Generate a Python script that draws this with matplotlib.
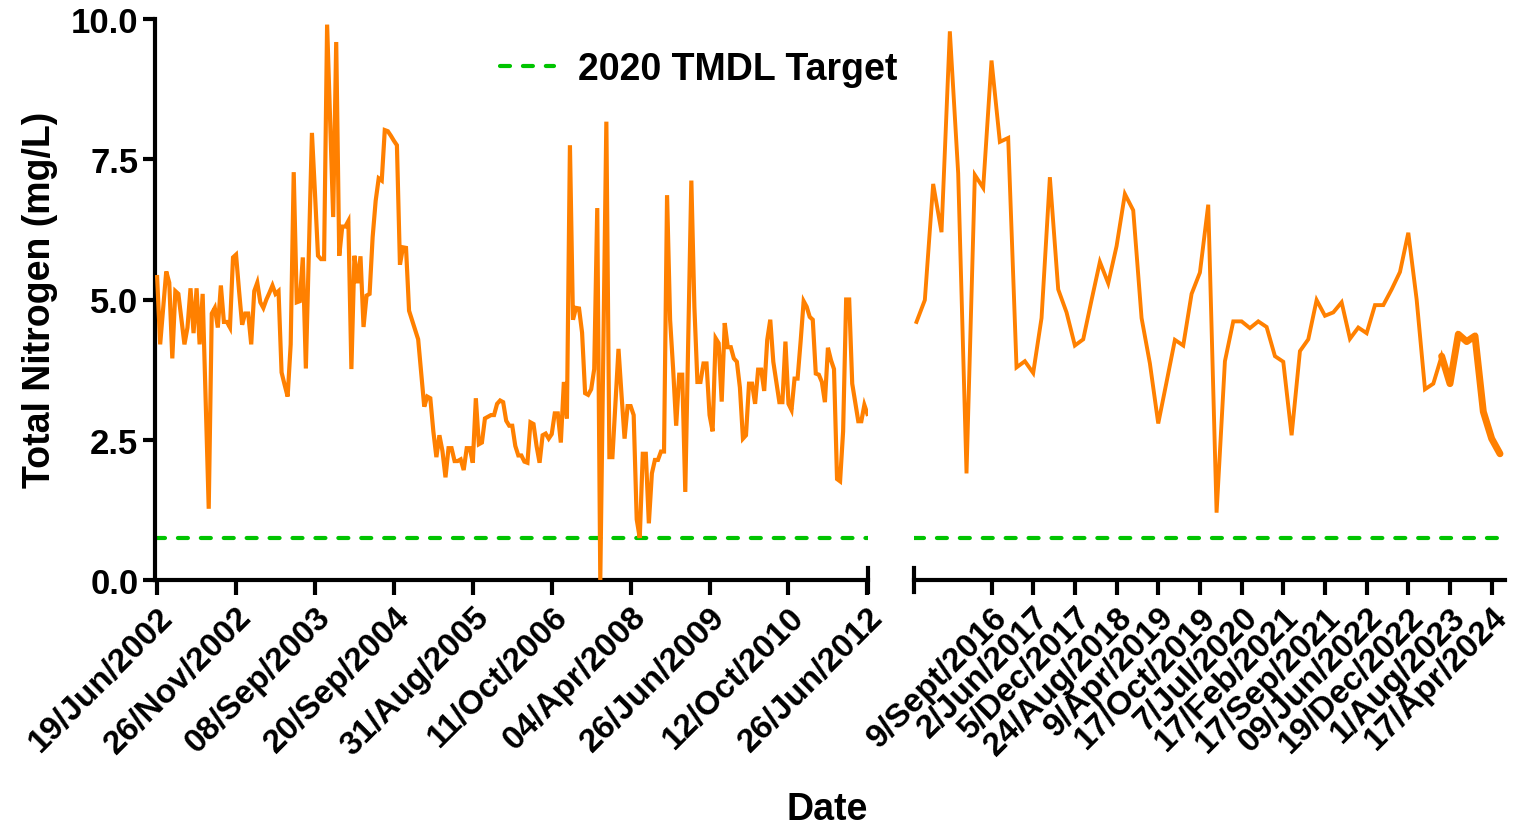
import numpy as np
import matplotlib.pyplot as plt
from matplotlib.lines import Line2D

plt.rcParams['font.family'] = ['Liberation Sans', 'DejaVu Sans']
plt.rcParams['font.weight'] = 'bold'

# Total nitrogen (mg/L), 2002-2012 samples in sampling order
tn_early = [
    5.4, 4.2, 4.85, 5.5, 5.3, 3.95, 5.15, 5.1, 4.65, 4.2, 4.5, 5.2, 4.4, 5.2,
    4.2, 5.1, 3.2, 1.27, 4.75, 4.85, 4.5, 5.25, 4.6, 4.6, 4.5, 5.75, 5.8, 5.15,
    4.55, 4.75, 4.75, 4.2, 5.15, 5.3, 4.95, 4.85, 5.0, 5.12, 5.25, 5.1, 5.15,
    3.7, 3.48, 3.27, 4.2, 7.27,
    4.95, 4.97, 5.75, 3.77, 5.9, 7.97, 6.9, 5.78, 5.72, 5.72, 9.9, 8.2, 6.47,
    9.59, 5.78, 6.3, 6.3, 6.4, 3.76, 5.78, 5.29, 5.77, 4.51, 5.07, 5.1, 6.11,
    6.76, 7.16, 7.12, 8.02, 8.0, 7.92, 7.83, 7.75, 5.62, 5.93, 5.92, 4.8, 4.63,
    4.46, 4.29, 3.69, 3.09, 3.27, 3.24, 2.65, 2.19, 2.58,
    2.3, 1.83, 2.35, 2.35, 2.12, 2.12, 2.15, 1.96, 2.35, 2.35, 2.09, 3.24, 2.42,
    2.45, 2.88, 2.91, 2.94, 2.94, 3.14, 3.2, 3.17, 2.84, 2.75, 2.75, 2.39, 2.22,
    2.22, 2.11, 2.09, 2.81, 2.78, 2.39, 2.09, 2.58, 2.61, 2.52, 2.6, 2.97, 2.97,
    2.45, 3.53, 2.88, 7.75, 4.64, 4.85, 4.84, 4.41, 3.33,
    3.3, 3.4, 3.76, 6.63, 0.0, 4.1, 8.17, 2.19, 2.19, 3.15, 4.12, 3.3, 2.52, 3.1,
    3.1, 2.94, 1.08, 0.75, 2.25, 2.25, 1.01, 1.9, 2.14, 2.14, 2.29, 2.29, 6.86,
    4.64, 3.76, 2.75, 3.66, 3.66, 1.57, 4.35, 7.12, 4.87, 3.53, 3.53, 3.86, 3.86,
    2.94, 2.65, 4.31, 4.22, 3.18, 4.58, 4.15, 4.15,
    3.95, 3.89, 3.43, 2.52, 2.58, 3.5, 3.5, 3.14, 3.75, 3.75, 3.37, 4.28, 4.64,
    3.89, 3.53, 3.17, 3.17, 4.25, 3.14, 3.03, 3.59, 3.59, 4.25, 4.97, 4.87, 4.69,
    4.64, 3.68, 3.66, 3.53, 3.17, 4.14, 3.92, 3.76, 1.8, 1.76, 2.65, 5.0, 5.0,
    3.5, 3.17, 2.83, 2.83, 3.12, 2.96,
]
early_labels = ["19/Jun/2002", "26/Nov/2002", "08/Sep/2003", "20/Sep/2004",
                "31/Aug/2005", "11/Oct/2006", "04/Apr/2008", "26/Jun/2009",
                "12/Oct/2010", "26/Jun/2012"]

# Total nitrogen (mg/L), 2016-2024 samples
tn_recent = [
    4.6, 4.99, 7.06, 6.2, 9.78, 7.25, 1.9, 7.22, 6.99, 9.26, 7.81, 7.88, 3.79,
    3.9, 3.69, 4.67, 7.18, 5.18, 4.77, 4.18, 4.29, 4.99, 5.67, 5.29, 5.95, 6.88,
    6.59, 4.67, 3.86, 2.79, 3.53, 4.28, 4.18, 5.1, 5.48, 6.69, 1.2, 3.9, 4.61,
    4.61, 4.49, 4.61, 4.51, 3.99, 3.89, 2.58, 4.08, 4.29, 4.99, 4.71, 4.77, 4.95,
    4.3, 4.5, 4.4, 4.9, 4.9, 5.18, 5.49, 6.19, 5.0, 3.4, 3.5, 3.99, 3.5, 4.38,
    4.25, 4.35, 3.0, 2.52, 2.25,
]
recent_tick_idx = list(range(9, 70, 5))
recent_labels = ["9/Sept/2016", "2/Jun/2017", "5/Dec/2017", "24/Aug/2018",
                 "9/Apr/2019", "17/Oct/2019", "7/Jul/2020", "17/Feb/2021",
                 "17/Sep/2021", "09/Jun/2022", "19/Dec/2022", "1/Aug/2023",
                 "17/Apr/2024"]
heavy_from = 63  # 2023-24 run, drawn with a heavier stroke

tmdl_target = 0.74

ORANGE = "#FF8000"
GREEN = "#00C400"
W, H = 1524, 828

fig = plt.figure(figsize=(W / 100, H / 100), dpi=100)
bottom = 1 - 581 / H
height = (581 - 20) / H
ax1 = fig.add_axes([155 / W, bottom, (868 - 155) / W, height])
ax2 = fig.add_axes([914 / W, bottom, (1505 - 914) / W, height])

n1 = len(tn_early)
x1 = np.arange(n1)
x2 = np.arange(len(tn_recent))

ax1.plot(x1, tn_early, color=ORANGE, lw=3.0, solid_joinstyle='miter', zorder=3)
ax2.plot(x2, tn_recent, color=ORANGE, lw=2.8, solid_joinstyle='miter', zorder=3)
ax2.plot(x2[heavy_from:], tn_recent[heavy_from:], color=ORANGE, lw=5,
         solid_capstyle='round', solid_joinstyle='round', zorder=3)

dash = dict(color=GREEN, lw=3, ls=(0, (2.4, 3.1)), dash_capstyle='round')
ax1.axhline(tmdl_target, **dash)
ax2.axhline(tmdl_target, **dash)

ax1.set_xlim(-0.7, n1 - 1 + 0.2)
ax2.set_xlim(-0.3, 70.6)
for ax in (ax1, ax2):
    ax.set_ylim(0, 10)
    for side in ('top', 'right'):
        ax.spines[side].set_visible(False)
    for side in ('left', 'bottom'):
        ax.spines[side].set_linewidth(3)
    ax.tick_params(axis='x', length=11, width=3, direction='out', pad=4)
    ax.tick_params(axis='y', length=9, width=3, direction='out', pad=3)

ax1.set_yticks([0, 2.5, 5, 7.5, 10])
ax1.set_yticklabels(["0.0", "2.5", "5.0", "7.5", "10.0"], fontsize=25,
                    fontweight='bold')
ax2.spines['left'].set_visible(False)
ax2.set_yticks([])

ax1.set_xticks(np.linspace(0, n1 - 1, len(early_labels)))
ax1.set_xticklabels(early_labels, rotation=45, ha='right',
                    rotation_mode='anchor', fontsize=24, fontweight='bold')
ax2.set_xticks(recent_tick_idx)
ax2.set_xticklabels(recent_labels, rotation=45, ha='right',
                    rotation_mode='anchor', fontsize=24, fontweight='bold')

# axis break marks at the gap between the two periods
for ax, xa in ((ax1, 1.0), (ax2, 0.0)):
    ax.add_line(Line2D([xa, xa], [-0.021, 0.021], transform=ax.transAxes,
                       color='black', lw=3, clip_on=False))

handle = Line2D([], [], **dash)
fig.legend([handle], ["2020 TMDL Target"], loc='center left',
           bbox_to_anchor=(466 / W, 1 - 70 / H), frameon=False,
           handlelength=1.45, handletextpad=0.65,
           prop=dict(size=27, weight='bold'))

fig.text(40 / W, 1 - 300 / H, "Total Nitrogen (mg/L)", rotation=90,
         ha='center', va='center', fontsize=27, fontweight='bold')
fig.text(827 / W, 1 - 810 / H, "Date", ha='center', va='center',
         fontsize=27, fontweight='bold')

fig.savefig("out.png", dpi=100)
